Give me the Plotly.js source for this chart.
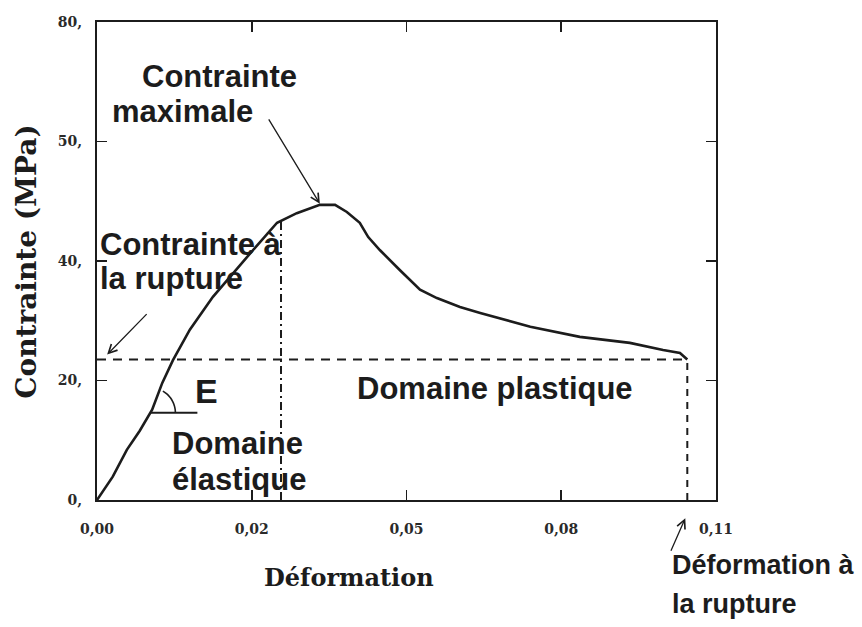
<!DOCTYPE html>
<html>
<head>
<meta charset="utf-8">
<script src="https://cdn.plot.ly/plotly-3.0.1.min.js"></script>
<style>
  html, body { margin: 0; padding: 0; background: #fff; }
  #chart { width: 862px; height: 627px; }
</style>
</head>
<body>
<div id="chart"></div>
<script>
// Essai de traction : courbe contrainte–déformation
const strain = [0, 0.0028, 0.0053, 0.0076, 0.0098, 0.0116, 0.0135, 0.0165, 0.0206, 0.0242,
                0.0277, 0.0320, 0.0355, 0.0396, 0.0423, 0.0444, 0.0467, 0.0482, 0.0503, 0.0538,
                0.0574, 0.0604, 0.0645, 0.0681, 0.0770, 0.0858, 0.0947, 0.1006, 0.1036, 0.1049];
const stress = [0, 3.9, 8.4, 11.6, 15.1, 19.6, 23.4, 28.5, 34.0, 38.0,
                41.8, 46.4, 48.0, 49.4, 49.4, 48.2, 46.4, 44.0, 41.8, 38.5,
                35.2, 33.8, 32.3, 31.3, 29.0, 27.3, 26.3, 25.1, 24.6, 23.5];

// Fin du domaine élastique (déformation)
const elasticStrain = 0.0327;
// Niveau de contrainte où l'angle du module E est tracé
const modulusStress = 14.6;

const xTickVals = [0, 0.0275, 0.055, 0.0825, 0.11];
const xTickText = ['0,00', '0,02', '0,05', '0,08', '0,11'];
const yTickVals = [0, 20, 40, 60, 80];
const yTickText = ['0,', '20,', '40,', '50,', '80,'];

// interpolation linéaire sur la partie montante de la courbe
function stressAt(x) {
  for (let i = 1; i < strain.length; i++) {
    if (strain[i] >= x) {
      const t = (x - strain[i - 1]) / (strain[i] - strain[i - 1]);
      return stress[i - 1] + t * (stress[i] - stress[i - 1]);
    }
  }
  return stress[stress.length - 1];
}
function strainAt(s) {
  for (let i = 1; i < stress.length; i++) {
    if (stress[i] >= s) {
      const t = (s - stress[i - 1]) / (stress[i] - stress[i - 1]);
      return strain[i - 1] + t * (strain[i] - strain[i - 1]);
    }
  }
  return strain[strain.length - 1];
}

const last = strain.length - 1;
const ruptureStrain = strain[last];
const ruptureStress = stress[last];
const elasticStress = stressAt(elasticStrain);
let peak = 0;
stress.forEach((v, i) => { if (v > stress[peak]) peak = i; });

const ink = '#1c1c1c';

const traces = [
  { x: strain, y: stress, mode: 'lines', line: { color: ink, width: 2.6 }, hoverinfo: 'x+y' },
  { x: [0, ruptureStrain], y: [ruptureStress, ruptureStress], mode: 'lines',
    line: { color: ink, width: 2, dash: '9px,7px' }, hoverinfo: 'skip' },
  { x: [elasticStrain, elasticStrain], y: [0, elasticStress], mode: 'lines',
    line: { color: ink, width: 2, dash: '8px,4px,2px,4px' }, hoverinfo: 'skip' },
  { x: [ruptureStrain, ruptureStrain], y: [0, ruptureStress], mode: 'lines',
    line: { color: ink, width: 2, dash: '7px,6px' }, hoverinfo: 'skip' }
];

// angle repérant la pente E (en pixels autour du point d'ancrage)
const arcR = 25, arcDeg = 62;
let arc = 'M' + arcR + ',0';
for (let a = 4; a <= arcDeg; a += 4) {
  const r = a * Math.PI / 180;
  arc += ' L' + (arcR * Math.cos(r)).toFixed(2) + ',' + (arcR * Math.sin(r)).toFixed(2);
}
const eAnchorX = strainAt(modulusStress);

const sans = { family: 'Liberation Sans, Arial, sans-serif', size: 31, color: ink, weight: 'bold' };
const sansSmall = Object.assign({}, sans, { size: 27 });
const serif = { family: 'DejaVu Serif, serif', color: ink, weight: 'bold' };

function label(text, x, y, ref, extra) {
  return Object.assign({
    text: text, x: x, y: y, xref: ref[0], yref: ref[1],
    xanchor: 'left', yanchor: 'middle', showarrow: false, font: sans
  }, extra || {});
}

const annotations = [
  label('Contrainte', 0.0076, 70.8, ['x', 'y']),
  label('maximale', 0.0023, 65.1, ['x', 'y']),
  label('Contrainte à', 0.0001, 42.8, ['x', 'y']),
  label('la rupture', 0.0001, 37.0, ['x', 'y']),
  label('E', 0.0170, 18.2, ['x', 'y'], { font: Object.assign({}, sans, { size: 34 }) }),
  label('Domaine', 0.0129, 9.5, ['x', 'y']),
  label('élastique', 0.0129, 3.5, ['x', 'y']),
  label('Domaine plastique', 0.0458, 18.7, ['x', 'y']),
  label('Déformation à', 0.926, -0.136, ['paper', 'paper'], { font: sansSmall }),
  label('la rupture', 0.926, -0.218, ['paper', 'paper'], { font: sansSmall }),
  // titres des axes
  { text: 'Déformation', x: 0.407, y: -0.163, xref: 'paper', yref: 'paper',
    xanchor: 'center', yanchor: 'middle', showarrow: false,
    font: Object.assign({}, serif, { size: 24 }) },
  { text: 'Contrainte (MPa)', x: -0.115, y: 0.50, xref: 'paper', yref: 'paper',
    xanchor: 'center', yanchor: 'middle', showarrow: false, textangle: -90,
    font: Object.assign({}, serif, { size: 28 }) },
  // flèches
  { text: '', x: strain[peak], y: stress[peak], xref: 'x', yref: 'y',
    ax: -52, ay: -86, showarrow: true, arrowhead: 5, arrowsize: 1.3, arrowwidth: 1.3, arrowcolor: ink, yshift: 1 },
  { text: '', x: 0.0018, y: ruptureStress, xref: 'x', yref: 'y', yshift: 5,
    ax: 41, ay: -42, showarrow: true, arrowhead: 5, arrowsize: 1.3, arrowwidth: 1.3, arrowcolor: ink },
  { text: '', x: ruptureStrain, y: -0.038, xref: 'x', yref: 'paper', xshift: -2,
    ax: -15, ay: 34, showarrow: true, arrowhead: 5, arrowsize: 1.3, arrowwidth: 1.3, arrowcolor: ink }
];

const shapes = [
  { type: 'path', xref: 'x', yref: 'y', xsizemode: 'pixel', ysizemode: 'pixel',
    xanchor: eAnchorX, yanchor: modulusStress, path: 'M0,0 L47,0',
    line: { color: ink, width: 2 } },
  { type: 'path', xref: 'x', yref: 'y', xsizemode: 'pixel', ysizemode: 'pixel',
    xanchor: eAnchorX, yanchor: modulusStress, path: arc,
    line: { color: ink, width: 1.6 } }
];

const axisCommon = {
  showline: true, linecolor: ink, linewidth: 2, mirror: 'ticks',
  ticks: 'inside', ticklen: 10, tickwidth: 1.6, tickcolor: ink,
  showgrid: false, zeroline: false, tickmode: 'array',
  tickfont: { family: 'DejaVu Serif, serif', size: 14, color: '#2a2a2a', weight: 'bold' }
};

const layout = {
  width: 862, height: 627,
  margin: { l: 97, r: 146, t: 22, b: 127 },
  paper_bgcolor: '#fff', plot_bgcolor: '#fff',
  showlegend: false,
  xaxis: Object.assign({}, axisCommon, {
    range: [0, 0.11], tickvals: xTickVals, ticktext: xTickText, ticklabelstandoff: 15
  }),
  yaxis: Object.assign({}, axisCommon, {
    range: [0, 80], tickvals: yTickVals, ticktext: yTickText, ticklabelstandoff: 10
  }),
  annotations: annotations,
  shapes: shapes
};

Plotly.newPlot('chart', traces, layout, { displayModeBar: false, staticPlot: true });
</script>
</body>
</html>
